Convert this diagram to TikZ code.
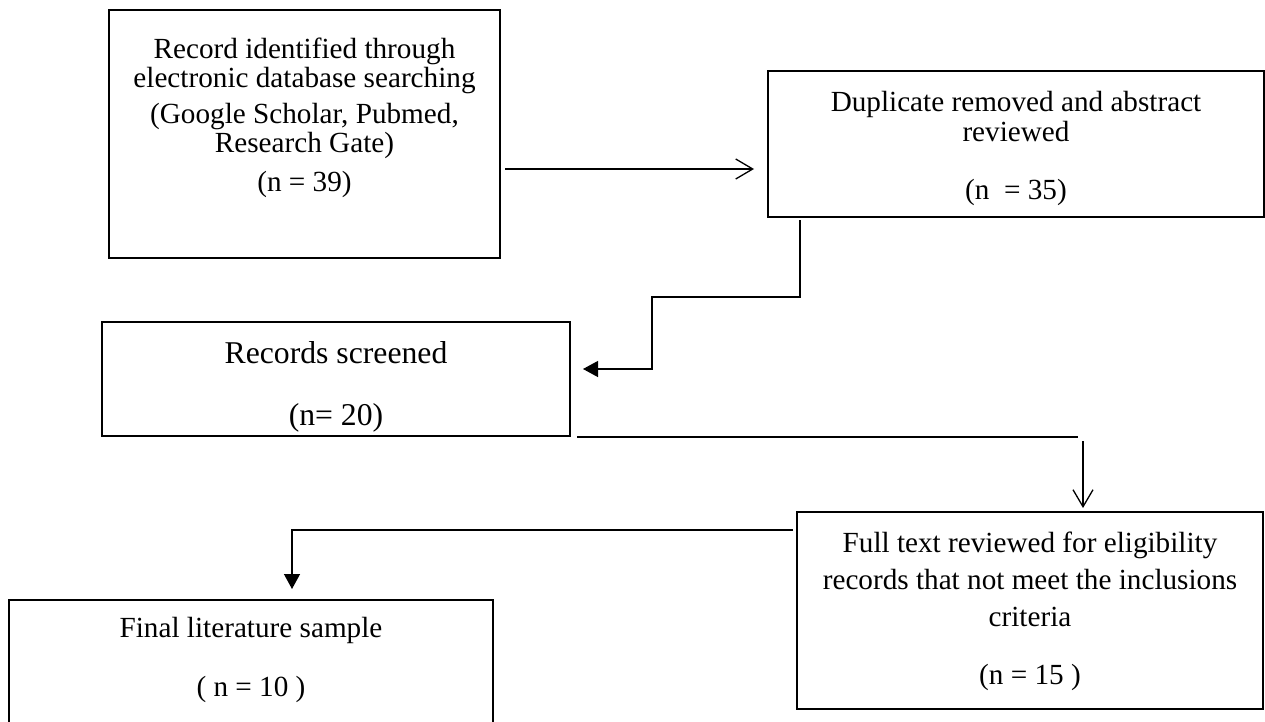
\documentclass[tikz,border=0pt]{standalone}
\usepackage{fontspec}
\setmainfont{Liberation Serif}
\usetikzlibrary{arrows.meta,calc}
\tikzset{
  box/.style={draw=black, line width=2.6pt, rectangle, outer sep=0pt, inner sep=0pt},
  txt/.style={align=center, anchor=base, inner sep=0pt, outer sep=0pt},
  conn/.style={draw=black, line width=1.3pt},
  opentip/.style={-{Straight Barb[length=17pt,width=20pt,line width=1.3pt]}},
  filltip/.style={-{Triangle[length=15pt,width=16pt]}}
}
\begin{document}
\begin{tikzpicture}[x=1pt,y=-1pt]
\useasboundingbox (0,0) rectangle (1265,722);
% boxes
\node[box, minimum width=391pt, minimum height=248pt] (b1) at (304.5,134) {};
\node[box, minimum width=496pt, minimum height=146pt] (b2) at (1016,144) {};
\node[box, minimum width=468pt, minimum height=114pt] (b3) at (336,379) {};
\node[box, minimum width=466pt, minimum height=197pt] (b4) at (1030,610.5) {};
\node[box, minimum width=484pt, minimum height=160pt] (b5) at (251,680) {};
% texts (anchor=base sits on the last line's baseline)
\node[txt, font=\fontsize{29.2}{28}\selectfont] (t1) at (304.5,191)
  {Record identified through\\electronic database searching\\[9pt](Google Scholar, Pubmed,\\Research Gate)\\[11pt](n = 39)};
\node[txt, font=\fontsize{29.2}{31}\selectfont] (t2) at (1016,199)
  {Duplicate removed and abstract\\reviewed\\[26pt](n\ \ = 35)};
\node[txt, font=\fontsize{31.7}{62}\selectfont] (t3) at (336,425)
  {Records screened\\(n= 20)};
\node[txt, font=\fontsize{29.2}{37}\selectfont] (t4) at (1030,684)
  {Full text reviewed for eligibility\\records that not meet the inclusions\\criteria\\[21pt](n = 15 )};
\node[txt, font=\fontsize{29.2}{59}\selectfont] (t5) at (251,696)
  {Final literature sample\\( n = 10 )};
% corner coordinates
\coordinate (k1) at (800,297);
\coordinate (k2) at (652,297);
\coordinate (k3) at (652,369);
\coordinate (k4) at (1078,437);
\coordinate (k5) at (1083,441);
\coordinate (k6) at (292,530);
% connectors
\draw[conn, opentip] ($(b1.east)+(5,35)$) -- ($(b2.west)+(-14,25)$);
\draw[conn, filltip] ($(b2.south west)+(32,3)$) -- (k1) -- (k2) -- (k3) -- ($(b3.east)+(13,-10)$);
\draw[conn] ($(b3.south east)+(7,1)$) -- (k4);
\draw[conn, opentip] (k5) -- ($(b4.north west)+(286,-4)$);
\draw[conn, filltip] ($(b4.north west)+(-4,18)$) -- (k6) -- ($(b5.north west)+(283,-11)$);
\end{tikzpicture}
\end{document}
